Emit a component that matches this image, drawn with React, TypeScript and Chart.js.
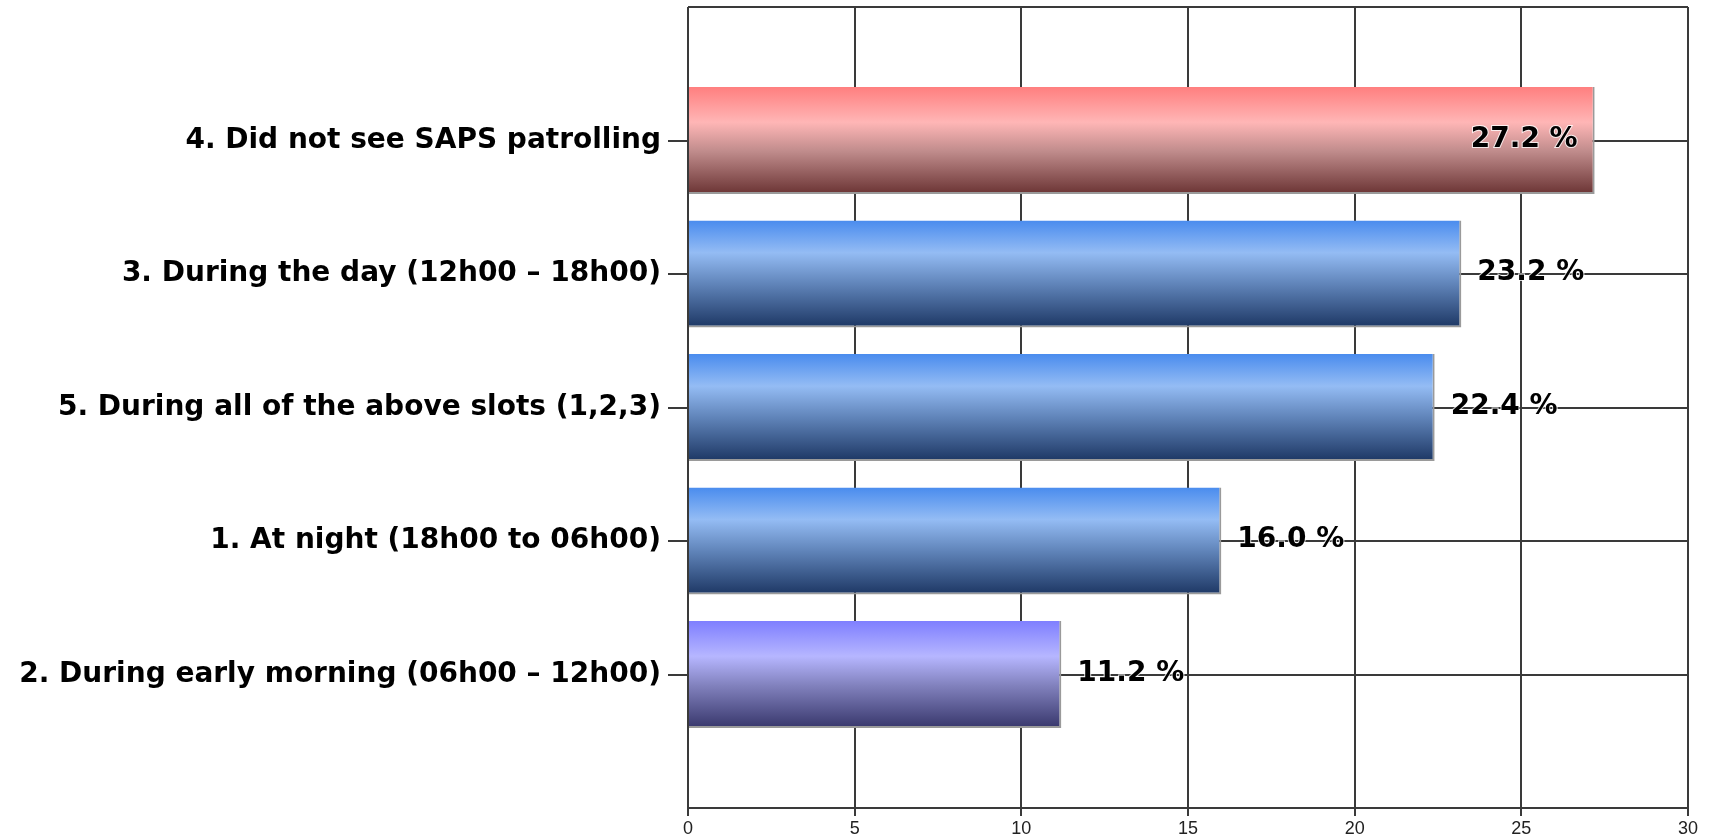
import React, { useEffect, useRef } from "react";
import { Chart, registerables } from "chart.js";

Chart.register(...registerables);

const categories = [
  "4. Did not see SAPS patrolling",
  "3. During the day (12h00 – 18h00)",
  "5. During all of the above slots (1,2,3)",
  "1. At night (18h00 to 06h00)",
  "2. During early morning (06h00 – 12h00)",
];
const values = [27.2, 23.2, 22.4, 16.0, 11.2];
const barPalettes = ["red", "blue", "blue", "blue", "purple"];
const xTicks = [0, 5, 10, 15, 20, 25, 30];

const gradientStops: Record<string, [number, string][]> = {
  red: [
    [0, "#ff7f7f"],
    [0.33, "#ffb6b6"],
    [0.6, "#c08c8c"],
    [1, "#6b3434"],
  ],
  blue: [
    [0, "#4a8cee"],
    [0.3, "#94bcf4"],
    [0.6, "#5f83b8"],
    [1, "#1d3764"],
  ],
  purple: [
    [0, "#7f7fff"],
    [0.33, "#b6b6ff"],
    [0.6, "#8282be"],
    [1, "#38376c"],
  ],
};

// padded category list: empty slot above and below the bars
const paddedLabels = ["", ...categories, ""];
const paddedValues: (number | null)[] = [null, ...values, null];
const paddedPalettes = ["", ...barPalettes, ""];

const valueLabelPlugin = {
  id: "valueLabels",
  afterDatasetsDraw(chart: any) {
    const ctx = chart.ctx;
    const meta = chart.getDatasetMeta(0);
    const area = chart.chartArea;
    ctx.save();
    ctx.font = "bold 28px 'DejaVu Sans', Verdana, sans-serif";
    ctx.textBaseline = "middle";
    meta.data.forEach((el: any, i: number) => {
      const v = paddedValues[i];
      if (v == null) return;
      const text = v.toFixed(1) + " %";
      const w = ctx.measureText(text).width;
      let x = el.x + 16;
      let align: CanvasTextAlign = "left";
      if (x + w > area.right) {
        x = el.x - 17;
        align = "right";
      }
      ctx.textAlign = align;
      ctx.lineWidth = 2;
      ctx.strokeStyle = "rgba(255,255,255,0.8)";
      ctx.strokeText(text, x, el.y - 1);
      ctx.fillStyle = "#000";
      ctx.fillText(text, x, el.y - 1);
    });
    ctx.restore();
  },
};

export default function App() {
  const ref = useRef<HTMLCanvasElement>(null);
  useEffect(() => {
    if (!ref.current) return;
    const chart = new Chart(ref.current, {
      type: "bar",
      data: {
        labels: paddedLabels,
        datasets: [
          {
            data: paddedValues,
            backgroundColor: (c: any) => {
              const ch = c.chart;
              const pal = paddedPalettes[c.dataIndex] || "blue";
              const stops = gradientStops[pal];
              if (!ch.chartArea || c.dataIndex === undefined) return stops[1][1];
              const ys = ch.scales.y;
              const center = ys.getPixelForValue(c.dataIndex);
              const half = (ys.getPixelForValue(1) - ys.getPixelForValue(0)) * 0.4;
              const g = ch.ctx.createLinearGradient(0, center - half, 0, center + half);
              stops.forEach(([o, col]) => g.addColorStop(o, col));
              return g;
            },
            borderColor: "#9a9a9a",
            borderWidth: { top: 0, right: 2, bottom: 2, left: 0 },
            borderSkipped: false,
            categoryPercentage: 1,
            barPercentage: 0.8,
          },
        ],
      },
      options: {
        indexAxis: "y",
        animation: false,
        responsive: true,
        maintainAspectRatio: false,
        layout: { padding: { top: 7, right: 29, left: 0, bottom: 0 } },
        plugins: {
          legend: { display: false },
          tooltip: { enabled: false },
        },
        scales: {
          x: {
            type: "linear",
            min: 0,
            max: 30,
            afterBuildTicks: (s: any) => {
              s.ticks = xTicks.map((v) => ({ value: v }));
            },
            afterFit: (s: any) => {
              s.height = 32;
              s.paddingLeft = 0;
              s.paddingRight = 0;
            },
            grid: {
              color: "#3a3a3a",
              lineWidth: 2,
              tickLength: 8,
              tickColor: "#3a3a3a",
            },
            border: { display: false },
            ticks: {
              color: "#222",
              padding: 2,
              maxRotation: 0,
              font: { family: "'Liberation Sans Narrow', 'Liberation Sans', Arial, sans-serif", size: 18 },
            },
          },
          y: {
            type: "category",
            offset: false,
            afterFit: (s: any) => {
              s.width = 688;
              s.paddingTop = 0;
              s.paddingBottom = 0;
            },
            grid: {
              offset: false,
              color: "#3a3a3a",
              lineWidth: 2,
              tickLength: 20,
              tickColor: (c: any) =>
                paddedLabels[c.index] ? "#3a3a3a" : "rgba(0,0,0,0)",
            },
            border: { display: false },
            ticks: {
              color: "#000",
              padding: 7,
              autoSkip: false,
              font: {
                family: "'DejaVu Sans', Verdana, sans-serif",
                size: 28,
                weight: "bold",
              },
            },
          },
        },
      },
      plugins: [valueLabelPlugin],
    } as any);
    return () => chart.destroy();
  }, []);
  return (
    <div style={{ position: "fixed", left: 0, top: 0, width: 1717, height: 840, background: "#fff" }}>
      <canvas ref={ref} />
    </div>
  );
}
